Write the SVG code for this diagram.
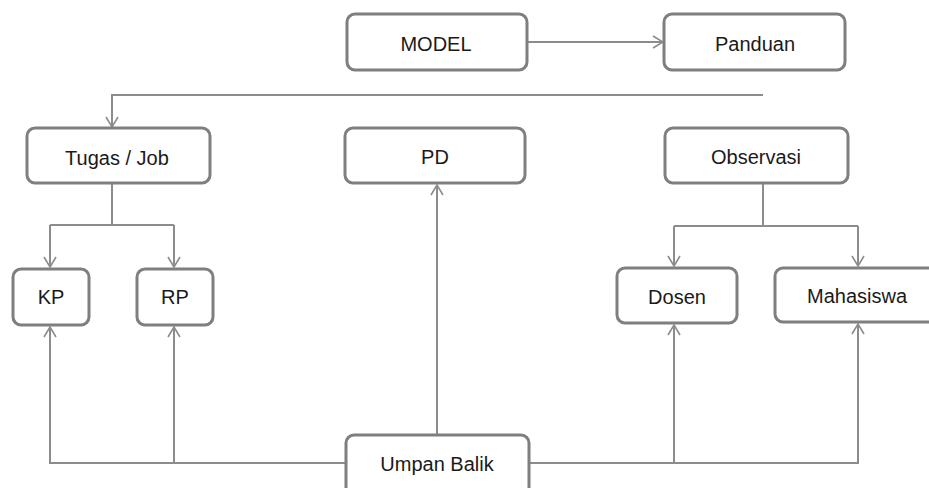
<svg xmlns="http://www.w3.org/2000/svg" width="929" height="488" viewBox="0 0 929 488">
  <defs>
    <style>
      .box { fill: #ffffff; stroke: #7f7f7f; stroke-width: 3; }
      .lbl { font-family: "Liberation Sans", Arial, sans-serif; font-size: 20px; fill: #1a1a1a; text-anchor: middle; }
      .conn { fill: none; stroke: #8c8c8c; stroke-width: 2; }
    </style>
    <marker id="arr" viewBox="0 0 12 14" markerWidth="12" markerHeight="14" refX="11" refY="7" orient="auto" markerUnits="userSpaceOnUse">
      <path d="M1,1 L11,7 L1,13" fill="none" stroke="#8c8c8c" stroke-width="1.6"/>
    </marker>
  </defs>
  <rect width="929" height="488" fill="#ffffff"/>

  <g id="connectors">
    <path class="conn" d="M527,42 H663" marker-end="url(#arr)"/>
    <path class="conn" d="M763,95 H112 V127" marker-end="url(#arr)"/>
    <path class="conn" d="M112,183 V225"/>
    <path class="conn" d="M50,225 H174"/>
    <path class="conn" d="M50,225 V267" marker-end="url(#arr)"/>
    <path class="conn" d="M174,225 V267" marker-end="url(#arr)"/>
    <path class="conn" d="M763,183 V226"/>
    <path class="conn" d="M674,226 H858"/>
    <path class="conn" d="M674,226 V266" marker-end="url(#arr)"/>
    <path class="conn" d="M858,226 V266" marker-end="url(#arr)"/>
    <path class="conn" d="M437,435 V185" marker-end="url(#arr)"/>
    <path class="conn" d="M346,463 H50 V327" marker-end="url(#arr)"/>
    <path class="conn" d="M174,463 V327" marker-end="url(#arr)"/>
    <path class="conn" d="M529,463 H858 V324" marker-end="url(#arr)"/>
    <path class="conn" d="M674,463 V325" marker-end="url(#arr)"/>
  </g>

  <g id="model">
    <rect class="box" x="347" y="14" width="180" height="56" rx="8"/>
    <text class="lbl" x="436" y="51">MODEL</text>
  </g>
  <g id="panduan">
    <rect class="box" x="664" y="14" width="181" height="56" rx="8"/>
    <text class="lbl" x="755" y="51">Panduan</text>
  </g>
  <g id="tugas">
    <rect class="box" x="27" y="128" width="183" height="55" rx="8"/>
    <text class="lbl" x="117" y="165">Tugas / Job</text>
  </g>
  <g id="pd">
    <rect class="box" x="345" y="128" width="180" height="55" rx="8"/>
    <text class="lbl" x="435" y="164">PD</text>
  </g>
  <g id="observasi">
    <rect class="box" x="665" y="128" width="183" height="55" rx="8"/>
    <text class="lbl" x="756" y="164">Observasi</text>
  </g>
  <g id="kp">
    <rect class="box" x="13" y="269" width="76" height="56" rx="8"/>
    <text class="lbl" x="51" y="304">KP</text>
  </g>
  <g id="rp">
    <rect class="box" x="137" y="269" width="76" height="56" rx="8"/>
    <text class="lbl" x="175" y="304">RP</text>
  </g>
  <g id="dosen">
    <rect class="box" x="617" y="268" width="120" height="55" rx="8"/>
    <text class="lbl" x="677" y="304">Dosen</text>
  </g>
  <g id="mahasiswa">
    <rect class="box" x="775" y="268" width="165" height="54" rx="8"/>
    <text class="lbl" x="857" y="303">Mahasiswa</text>
  </g>
  <g id="umpan-balik">
    <rect class="box" x="346" y="435" width="183" height="70" rx="8"/>
    <text class="lbl" x="437" y="471">Umpan Balik</text>
  </g>
</svg>
